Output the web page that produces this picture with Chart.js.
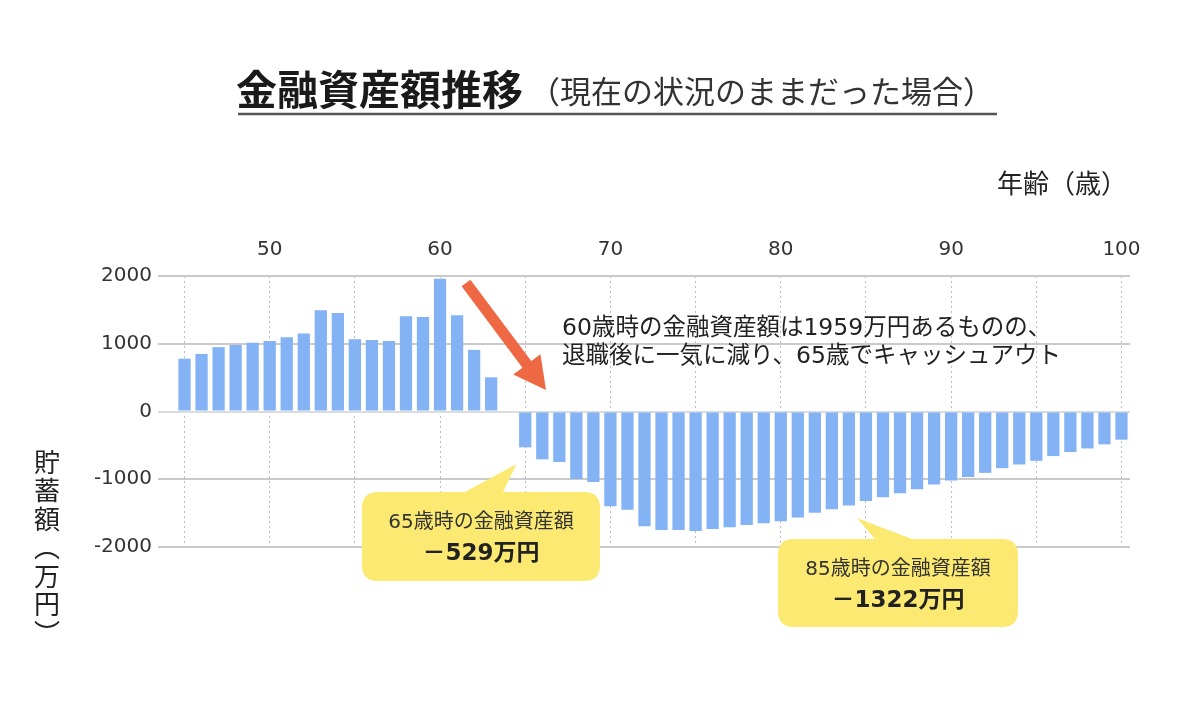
<!DOCTYPE html>
<html lang="ja">
<head>
<meta charset="utf-8">
<title>金融資産額推移</title>
<script src="https://cdn.jsdelivr.net/npm/chart.js@4/dist/chart.umd.min.js"></script>
<style>
  html, body { margin: 0; padding: 0; background: #fff; }
  #wrap { width: 1200px; height: 717px; }
</style>
</head>
<body>
<div id="wrap"><canvas id="chart" width="1200" height="717"></canvas></div>
<script>
// ages (categories) and savings in 万円
const ages = [
  45, 46, 47, 48, 49, 50, 51, 52, 53, 54, 55, 56, 57, 58, 59, 60, 61, 62, 63, 64,
  65, 66, 67, 68, 69, 70, 71, 72, 73, 74, 75, 76, 77, 78, 79, 80, 81, 82, 83, 84,
  85, 86, 87, 88, 89, 90, 91, 92, 93, 94, 95, 96, 97, 98, 99, 100
];
const savings = [
  780, 850, 950, 980, 1015, 1040, 1095, 1150, 1495, 1455,
  1065, 1055, 1040, 1405, 1395, 1959, 1420, 910, 505, 0,
  -529, -706, -746, -998, -1042, -1398, -1452, -1694, -1748, -1748,
  -1763, -1733, -1709, -1674, -1649, -1620, -1565, -1496, -1444, -1387,
  -1322, -1267, -1208, -1149, -1079, -1020, -965, -906, -837, -782,
  -728, -658, -599, -545, -485, -416
];
const yTicks = [-2000, -1000, 0, 1000, 2000];

const titleMain = "金融資産額推移";
const titleSub = "（現在の状況のままだった場合）";
const xTitle = "年齢（歳）";
const yTitle = ["貯", "蓄", "額", "︵", "万", "円", "︶"];
const noteLines = ["60歳時の金融資産額は1959万円あるものの、", "退職後に一気に減り、65歳でキャッシュアウト"];
const callouts = [
  { age: 65, line1: "65歳時の金融資産額", line2: "－529万円", box: [362, 492, 238, 89], base: [465, 503] },
  { age: 85, line1: "85歳時の金融資産額", line2: "－1322万円", box: [778, 539, 240, 88], base: [875, 912] }
];

const numFont = "'DejaVu Sans', 'Noto Sans CJK JP', sans-serif";
const jpFont = "'DejaVu Sans', 'Noto Sans CJK JP', sans-serif";

// draw a rounded box with a pointer triangle on the top edge
function drawCallout(ctx, c, tipX, tipY) {
  const [x, y, w, h] = c.box;
  const r = 16;
  ctx.save();
  ctx.fillStyle = "#fbe971";
  ctx.beginPath();
  ctx.moveTo(x + r, y);
  ctx.lineTo(c.base[0], y);
  ctx.lineTo(tipX, tipY);
  ctx.lineTo(c.base[1], y);
  ctx.lineTo(x + w - r, y);
  ctx.quadraticCurveTo(x + w, y, x + w, y + r);
  ctx.lineTo(x + w, y + h - r);
  ctx.quadraticCurveTo(x + w, y + h, x + w - r, y + h);
  ctx.lineTo(x + r, y + h);
  ctx.quadraticCurveTo(x, y + h, x, y + h - r);
  ctx.lineTo(x, y + r);
  ctx.quadraticCurveTo(x, y, x + r, y);
  ctx.closePath();
  ctx.fill();
  ctx.textAlign = "center";
  ctx.textBaseline = "middle";
  ctx.fillStyle = "#333";
  ctx.font = "20px " + jpFont;
  ctx.fillText(c.line1, x + w / 2, y + 31);
  ctx.fillStyle = "#222";
  ctx.font = "bold 23px " + jpFont;
  ctx.fillText(c.line2, x + w / 2, y + 62);
  ctx.restore();
}

function drawArrow(ctx, x1, y1, x2, y2) {
  const dx = x2 - x1, dy = y2 - y1;
  const len = Math.hypot(dx, dy);
  const ux = dx / len, uy = dy / len;
  const px = -uy, py = ux;
  const headLen = 32, headHalf = 17, shaftHalf = 5.5;
  const bx = x2 - ux * headLen, by = y2 - uy * headLen;
  ctx.save();
  ctx.fillStyle = "#ee6844";
  ctx.beginPath();
  ctx.moveTo(x1 + px * shaftHalf, y1 + py * shaftHalf);
  ctx.lineTo(bx + px * shaftHalf, by + py * shaftHalf);
  ctx.lineTo(bx + px * headHalf, by + py * headHalf);
  ctx.lineTo(x2, y2);
  ctx.lineTo(bx - px * headHalf, by - py * headHalf);
  ctx.lineTo(bx - px * shaftHalf, by - py * shaftHalf);
  ctx.lineTo(x1 - px * shaftHalf, y1 - py * shaftHalf);
  ctx.closePath();
  ctx.fill();
  ctx.restore();
}

const overlay = {
  id: "overlay",
  afterDraw(chart) {
    const ctx = chart.ctx;
    const xs = chart.scales.x, ys = chart.scales.y;

    // title + underline
    ctx.save();
    ctx.fillStyle = "#1a1a1a";
    ctx.textBaseline = "alphabetic";
    ctx.textAlign = "left";
    ctx.font = "bold 41px 'Noto Sans CJK JP', sans-serif";
    ctx.fillText(titleMain, 236, 105);
    const tw = ctx.measureText(titleMain).width;
    ctx.font = "31px 'Noto Sans CJK JP', sans-serif";
    ctx.fillStyle = "#333";
    ctx.fillText(titleSub, 236 + tw + 6, 103);
    ctx.strokeStyle = "#555";
    ctx.lineWidth = 2.5;
    ctx.beginPath();
    ctx.moveTo(238, 114);
    ctx.lineTo(997, 114);
    ctx.stroke();

    // axis titles
    ctx.fillStyle = "#222";
    ctx.font = "26px 'Noto Sans CJK JP', sans-serif";
    ctx.textBaseline = "middle";
    ctx.fillText(xTitle, 997, 183);
    ctx.textAlign = "center";
    yTitle.forEach((ch, i) => ctx.fillText(ch, 47, 462 + i * 28.5));

    // note text
    ctx.textAlign = "left";
    ctx.fillStyle = "#222";
    ctx.font = "23.5px " + jpFont;
    ctx.fillText(noteLines[0], 562, 329);
    ctx.fillText(noteLines[1], 562, 357);
    ctx.restore();

    drawArrow(ctx, 466, 283, 546, 390);

    callouts.forEach(c => {
      const i = ages.indexOf(c.age);
      const tipX = xs.getPixelForValue(i) - 9;
      const tipY = ys.getPixelForValue(savings[i]) + 17;
      drawCallout(ctx, c, tipX, tipY);
    });
  }
};

new Chart(document.getElementById("chart"), {
  type: "bar",
  data: {
    labels: ages,
    datasets: [{
      label: "貯蓄額",
      data: savings,
      backgroundColor: "#83b2f5",
      borderWidth: 0,
      barPercentage: 0.72,
      categoryPercentage: 1.0,
    }],
  },
  options: {
    responsive: false,
    animation: false,
    layout: { padding: { top: 236, right: 70, bottom: 170, left: 0 } },
    plugins: {
      legend: { display: false },
      tooltip: { enabled: false },
      title: { display: false },
    },
    scales: {
      x: {
        type: "category",
        position: "top",
        offset: true,
        grid: {
          offset: false,
          drawTicks: false,
          lineWidth: 1,
          color: (c) => (ages[c.index] % 5 === 0 ? "#bdbdbd" : "rgba(0,0,0,0)"),
        },
        border: { display: false, dash: [2, 3] },
        ticks: {
          autoSkip: false,
          maxRotation: 0,
          padding: 14,
          color: "#333",
          font: { family: numFont, size: 20 },
          callback: (v, i) => (ages[i] % 10 === 0 ? String(ages[i]) : ""),
        },
        afterFit: (s) => { s.height = 40; },
      },
      y: {
        min: yTicks[0],
        max: yTicks[yTicks.length - 1],
        afterBuildTicks: (s) => { s.ticks = yTicks.map(v => ({ value: v })); },
        grid: {
          lineWidth: 2,
          tickLength: 18,
          color: (c) => (c.tick && c.tick.value === 0 ? "#dcdcdc" : "#cacaca"),
        },
        border: { display: false },
        ticks: {
          padding: 6,
          color: "#333",
          font: { family: numFont, size: 20 },
          callback: (v) => String(v),
        },
        afterFit: (s) => { s.width = 176; },
      },
    },
  },
  plugins: [overlay],
});
</script>
</body>
</html>
